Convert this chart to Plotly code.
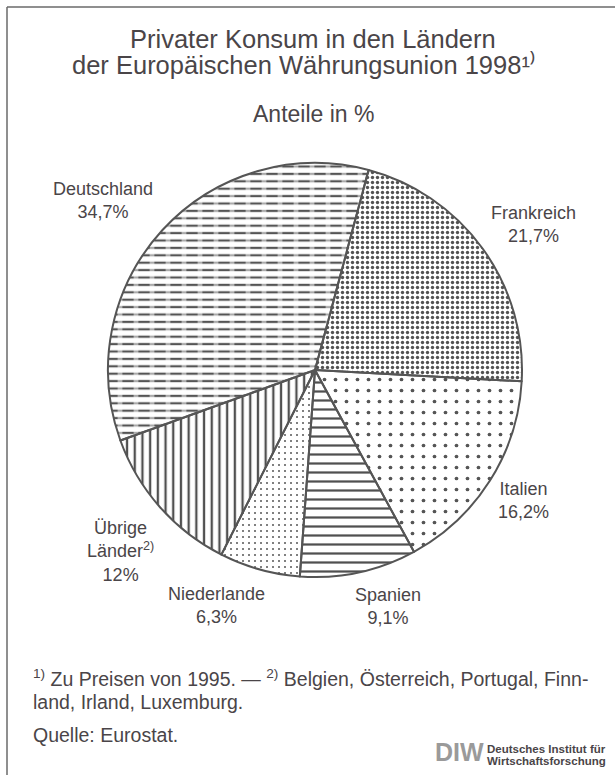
import plotly.graph_objects as go

# ---- data ----
categories = ["Frankreich", "Italien", "Spanien", "Niederlande", "Übrige Länder", "Deutschland"]
values = [21.7, 16.2, 9.1, 6.3, 12.0, 34.7]
label_names = ["Frankreich", "Italien", "Spanien", "Niederlande",
               "Übrige<br>Länder<sup>2)</sup>", "Deutschland"]
title_lines = ["Privater Konsum in den Ländern",
               "der Europäischen Währungsunion 1998¹⁾"]
subtitle = "Anteile in %"
footnotes = ["<sup>1)</sup> Zu Preisen von 1995. — <sup>2)</sup> Belgien, Österreich, Portugal, Finn-",
             "land, Irland, Luxemburg.",
             "Quelle: Eurostat."]

# ---- styles ----
W, H = 615, 775
TXT = "#4a4548"
OUT = "#555555"
FONT = "Liberation Sans, Arial, sans-serif"

def px(x):
    return x / W

def py(y):
    return 1 - y / H

cx, cy, r = 315, 370, 207
domain = dict(x=[px(cx - r), px(cx + r)], y=[py(cy + r), py(cy - r)])

# base pie with patterns
fig = go.Figure()
fig.add_trace(go.Pie(
    labels=categories,
    values=values,
    sort=False,
    direction="clockwise",
    rotation=15,
    textinfo="none",
    hoverinfo="label+percent",
    domain=domain,
    marker=dict(
        colors=["white"] * 6,
        line=dict(color=OUT, width=0),
        pattern=dict(
            shape=[".", ".", "-", ".", "|", "-"],
            size=[5, 11, 9, 6, 7.7, 7.4],
            solidity=[0.36, 0.09, 0.25, 0.09, 0.3, 0.3],
            fgcolor=["#525252", "#555555", "#505050", "#555555", "#505050", "#555555"],
            bgcolor="white",
            fillmode="replace",
        ),
    ),
    showlegend=False,
))

# overlay pie: breaks Deutschland lines into dashes and draws the outlines
fig.add_trace(go.Pie(
    labels=categories,
    values=values,
    sort=False,
    direction="clockwise",
    rotation=15,
    textinfo="none",
    hoverinfo="skip",
    domain=domain,
    marker=dict(
        colors=["rgba(0,0,0,0)"] * 6,
        line=dict(color=OUT, width=2),
        pattern=dict(
            shape=["", "", "", "", "", "|"],
            size=[8, 8, 8, 8, 8, 16],
            solidity=[0.1, 0.1, 0.1, 0.1, 0.1, 0.3],
            fgcolor="white",
            bgcolor="rgba(0,0,0,0)",
            fillmode="overlay",
        ),
    ),
    showlegend=False,
))

def fmt(v):
    if float(v).is_integer():
        return f"{int(v)}%"
    return f"{v:.1f}".replace(".", ",") + "%"

label_pos = [(533, 224), (523, 500), (388, 606), (216, 605), (120, 551), (103, 201)]

annotations = []
for name, v, (lx, ly) in zip(label_names, values, label_pos):
    annotations.append(dict(
        x=px(lx), y=py(ly), xref="paper", yref="paper",
        text=f"{name}<br>{fmt(v)}", showarrow=False,
        xanchor="center", yanchor="middle", align="center",
        font=dict(family=FONT, size=18, color=TXT),
    ))

# titles (line 1 has no descenders: its box is trimmed so the two lines sit tight)
annotations += [
    dict(x=px(313), y=py(24.9), text=title_lines[0], xref="paper", yref="paper",
         showarrow=False, xanchor="center", yanchor="top", height=24.5, valign="top",
         borderpad=0, borderwidth=0,
         font=dict(family=FONT, size=25.5, color=TXT)),
    dict(x=px(304), y=py(50.3), text=title_lines[1],
         xref="paper", yref="paper", showarrow=False, xanchor="center", yanchor="top",
         borderpad=0, borderwidth=0,
         font=dict(family=FONT, size=25.5, color=TXT)),
    dict(x=px(313), y=py(114), text=subtitle, xref="paper", yref="paper",
         showarrow=False, xanchor="center", yanchor="middle",
         font=dict(family=FONT, size=23, color=TXT)),
]

# footnotes
for t, y in zip(footnotes, [678, 702, 735]):
    annotations.append(dict(x=px(31), y=py(y), text=t, xref="paper", yref="paper",
                            showarrow=False, xanchor="left", yanchor="middle",
                            font=dict(family=FONT, size=19.5, color=TXT)))

# DIW logo
annotations += [
    dict(x=px(459), y=py(752), text="<b>DIW</b>", xref="paper", yref="paper",
         showarrow=False, xanchor="center", yanchor="middle",
         font=dict(family="Liberation Sans Narrow, Liberation Sans", size=25, color="#9a9a9a")),
    dict(x=px(487), y=py(749), text="<b>Deutsches Institut für</b>",
         xref="paper", yref="paper", showarrow=False, xanchor="left", yanchor="middle",
         borderpad=0, borderwidth=0,
         font=dict(family=FONT, size=11.5, color=TXT)),
    dict(x=px(487), y=py(761), text="<b>Wirtschaftsforschung</b>",
         xref="paper", yref="paper", showarrow=False, xanchor="left", yanchor="middle",
         borderpad=0, borderwidth=0,
         font=dict(family=FONT, size=11.5, color=TXT)),
]

shapes = [
    dict(type="line", xref="paper", yref="paper", x0=px(7), x1=1, y0=py(7), y1=py(7),
         line=dict(color="#6a6a6a", width=1.5)),
    dict(type="line", xref="paper", yref="paper", x0=px(7), x1=px(7), y0=0, y1=py(7),
         line=dict(color="#6a6a6a", width=1.5)),
]

fig.update_layout(
    width=W, height=H,
    margin=dict(l=0, r=0, t=0, b=0),
    paper_bgcolor="white", plot_bgcolor="white",
    annotations=annotations, shapes=shapes,
)

fig.write_html(
    "out.html",
    config={"displayModeBar": False},
    post_script="document.body.style.margin='0';document.body.style.overflow='hidden';",
)
